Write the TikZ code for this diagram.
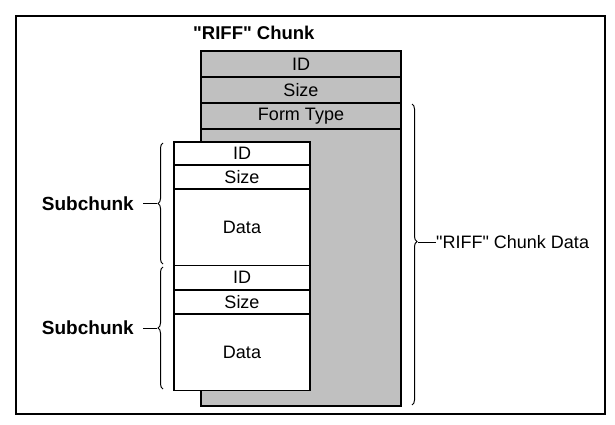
\documentclass[tikz,border=0pt]{standalone}
\usepackage{fontspec}
\setmainfont{Liberation Sans}
\usetikzlibrary{decorations.pathreplacing}
\definecolor{chunkgray}{RGB}{192,192,192}
\newcommand{\qq}{\textquotedbl}
\begin{document}
\begin{tikzpicture}[x=1pt,y=-1pt,
  every node/.style={font=\fontsize{18}{20}\selectfont},
  grayrow/.style={draw=black, line width=1.3pt, fill=chunkgray, minimum width=200pt, inner sep=0pt},
  whiterow/.style={draw=black, line width=1.3pt, fill=white, minimum width=136pt, inner sep=0pt},
  bracestyle/.style={draw=black, line width=1pt, decorate, decoration={brace, amplitude=5pt}},
  ticklabel/.style={font=\fontsize{19}{21}\selectfont\bfseries, inner sep=0pt},
  tickline/.style={draw=black, line width=1pt}]
\useasboundingbox (0,0) rectangle (615,425);
\draw[line width=2.5pt] (16,16) rectangle (605,414);
% title
\node[font=\fontsize{18.5}{20}\selectfont\bfseries, anchor=west, inner sep=0pt] (title) at (193,33) {\qq RIFF\qq{} Chunk};
% gray RIFF chunk
\node[grayrow, minimum height=277pt] (gbody) at (301,267.5) {};
\node[grayrow, minimum height=26pt] (gid) at (301,64) {ID};
\node[grayrow, minimum height=26pt] (gsize) at (301,90) {Size};
\node[grayrow, minimum height=26pt] (gform) at (301,116) {Form Type};
% subchunk 1
\node[whiterow, minimum height=23pt] (s1id) at (242,153.5) {ID};
\node[whiterow, minimum height=24pt] (s1size) at (242,177) {Size};
\node[whiterow, minimum height=76.5pt] (s1data) at (242,227.25) {Data};
% subchunk 2
\node[whiterow, minimum height=24.5pt] (s2id) at (242,277.75) {ID};
\node[whiterow, minimum height=24pt] (s2size) at (242,302) {Size};
\node[whiterow, minimum height=76.5pt] (s2data) at (242,352.25) {Data};
% left braces
\draw[bracestyle] (163,264) -- (163,143);
\draw[bracestyle] (163,389) -- (163,267);
\coordinate (b1tip) at (157,203.5);
\coordinate (b2tip) at (157,328);
\node[ticklabel, anchor=east] (sub1) at (134,203.5) {Subchunk};
\node[ticklabel, anchor=east] (sub2) at (134,328) {Subchunk};
\draw[tickline] (b1tip) -- (143,203.5);
\draw[tickline] (b2tip) -- (143,328);
% right brace
\draw[bracestyle, decoration={brace, amplitude=5pt, aspect=0.457}] (412,104) -- (412,405);
\coordinate (rtip) at (418,242);
\node[anchor=west, inner sep=0pt] (rlabel) at (436,242) {\qq RIFF\qq{} Chunk Data};
\draw[tickline] (rtip) -- (rlabel.west);
\end{tikzpicture}
\end{document}
